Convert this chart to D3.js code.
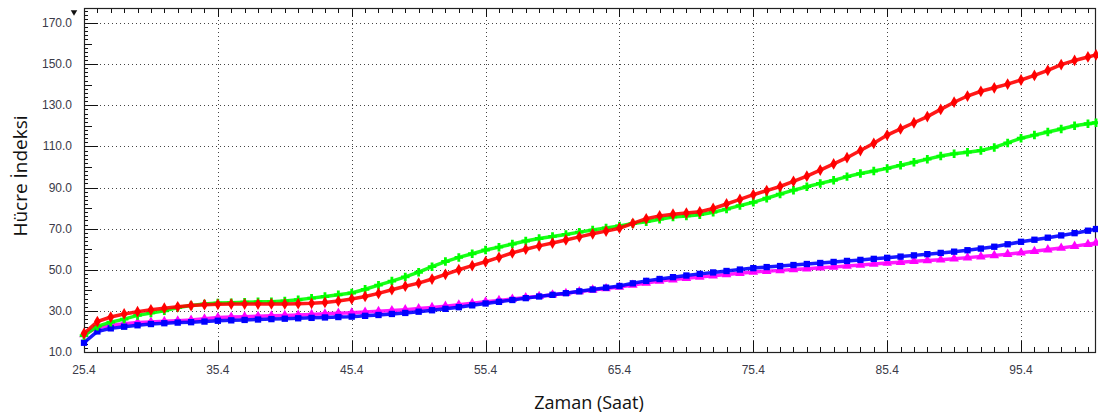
<!DOCTYPE html>
<html>
<head>
<meta charset="utf-8">
<script src="https://cdn.jsdelivr.net/npm/d3@7"></script>
<style>
	body { margin: 0; background: #fff; }
	svg { display: block; }
</style>
</head>
<body>
<div id="container"></div>
<script>
// sample times (hours), one per hour from 25.4 plus the last reading
var hours = d3.range(76).map((i) => +(25.4 + i).toFixed(1)).concat([101.0]);

var red = [19, 24.8, 27, 28.5, 29.6, 30.5, 31.3, 32, 32.6, 33,
	33.2, 33.3, 33.3, 33.3, 33.4, 33.4, 33.5, 33.7, 34.1, 34.8,
	35.8, 37, 38.5, 40.3, 42, 43.5, 45.5, 47.8, 50, 52,
	53.9, 56, 58.2, 60, 61.6, 63, 64.5, 66, 67.5, 68.8,
	70.2, 72.6, 74.8, 76.2, 77, 77.6, 78.2, 79.8, 82, 84.2,
	86.5, 88.5, 90.5, 93, 95.5, 98.5, 101.5, 104.5, 108, 111.5,
	115.5, 118.5, 121.5, 124.5, 128, 131.5, 134.5, 136.8, 138.5, 140.3,
	142.3, 144.5, 147, 149.8, 151.8, 153.5, 154.5];

var green = [18, 22.5, 24.5, 26, 27.8, 29, 30, 31.6, 32.6, 33.3,
	33.8, 34, 34.2, 34.4, 34.5, 34.8, 35.4, 36.2, 37, 37.8,
	38.7, 40.5, 42.5, 44.5, 46.5, 48.8, 51.5, 54, 56, 57.8,
	59.6, 61, 62.5, 64, 65.2, 66.2, 67.2, 68.3, 69.3, 70.3,
	71.3, 72.5, 73.4, 74.6, 75.7, 76.2, 76.8, 78, 79.5, 81.2,
	82.8, 84.8, 86.8, 88.7, 90.4, 92, 93.5, 95.3, 96.8, 98,
	99.3, 100.8, 102.3, 103.8, 105.3, 106.4, 107.2, 108, 109.5, 111.7,
	114, 115.5, 117, 118.5, 120, 121, 121.5];

var blue = [14.5, 20, 21.5, 22.3, 23, 23.6, 24, 24.3, 24.5, 24.8,
	25.2, 25.4, 25.6, 25.8, 26, 26.2, 26.4, 26.6, 26.8, 27,
	27.2, 27.6, 28, 28.5, 29, 29.6, 30.3, 31, 31.8, 32.7,
	33.6, 34.4, 35.3, 36.2, 37, 37.8, 38.6, 39.5, 40.4, 41.3,
	42.1, 43.4, 44.6, 45.5, 46.4, 47.2, 48, 48.7, 49.4, 50.1,
	50.8, 51.3, 51.8, 52.3, 52.8, 53.3, 53.8, 54.3, 54.8, 55.3,
	55.8, 56.4, 57, 57.6, 58.2, 58.8, 59.5, 60.3, 61.2, 62.4,
	63.6, 64.6, 65.6, 66.7, 67.8, 69, 69.8];

var magenta = [18.5, 21.8, 23, 23.8, 24.3, 24.6, 24.9, 25.2, 25.6, 26.2,
	26.8, 27, 27.2, 27.4, 27.6, 27.8, 28, 28.3, 28.6, 28.9,
	29.1, 29.4, 29.8, 30.2, 30.6, 31.1, 31.7, 32.3, 33, 33.7,
	34.4, 35.1, 35.8, 36.5, 37.1, 37.8, 38.6, 39.4, 40.2, 40.9,
	41.6, 42.6, 43.6, 44.5, 45.2, 45.9, 46.5, 47.1, 47.7, 48.3,
	48.9, 49.3, 49.7, 50.1, 50.5, 51, 51.4, 51.8, 52.3, 52.8,
	53.3, 53.7, 54.1, 54.5, 54.9, 55.4, 55.9, 56.4, 57, 57.6,
	58.3, 59, 59.8, 60.6, 61.5, 62.4, 63];

// tick labels
var xTicks = [25.4, 35.4, 45.4, 55.4, 65.4, 75.4, 85.4, 95.4];
var yTicks = [10, 30, 50, 70, 90, 110, 130, 150, 170];

var series = [
	{name: "magenta", values: magenta, color: "#ff00ff", symbol: d3.symbolTriangle},
	{name: "blue", values: blue, color: "#0000ff", symbol: d3.symbolSquare},
	{name: "green", values: green, color: "#00ff00", symbol: d3.symbolCross},
	{name: "red", values: red, color: "#ff0000", symbol: d3.symbolDiamond}
];

function draw_chart()
{// draws the whole chart
	var width = 1098, height = 419;
	var pLeft = 84, pRight = 1096, pTop = 8, pBottom = 352;

	var svg = d3.select("#container").append("svg")
		.attr("width", width)
		.attr("height", height);

	var x = d3.scaleLinear().domain([25.4, 101.0]).range([pLeft, pRight]);
	var y = d3.scaleLinear().domain([10, 10 + (pBottom - pTop) / 2.056]).range([pBottom, pTop]);

	// dotted grid
	svg.append("g").selectAll("line")
		.data(yTicks.slice(1))
		.enter().append("line")
			.attr("x1", pLeft).attr("x2", pRight)
			.attr("y1", (d) => Math.round(y(d)) + 0.5)
			.attr("y2", (d) => Math.round(y(d)) + 0.5)
			.attr("stroke", "#444")
			.attr("stroke-dasharray", "1,3");

	svg.append("g").selectAll("line")
		.data(xTicks.slice(1))
		.enter().append("line")
			.attr("x1", (d) => Math.round(x(d)) + 0.5)
			.attr("x2", (d) => Math.round(x(d)) + 0.5)
			.attr("y1", pTop).attr("y2", pBottom)
			.attr("stroke", "#444")
			.attr("stroke-dasharray", "1,3");

	// minor ticks: every hour on x, every 2 units on y
	var xMinor = d3.range(76).map((i) => 25.4 + i);
	var yMinor = d3.range(10, 178, 2);

	var ticks = svg.append("g").attr("stroke", "#111").attr("stroke-width", 1);

	ticks.append("g").selectAll("line")
		.data(xMinor)
		.enter().append("line")
			.attr("x1", (d) => Math.round(x(d)) + 0.5)
			.attr("x2", (d) => Math.round(x(d)) + 0.5)
			.attr("y1", pBottom)
			.attr("y2", (d, i) => pBottom - (i % 10 == 0 ? 11 : 5));

	ticks.append("g").selectAll("line")
		.data(xMinor)
		.enter().append("line")
			.attr("x1", (d) => Math.round(x(d)) + 0.5)
			.attr("x2", (d) => Math.round(x(d)) + 0.5)
			.attr("y1", pTop)
			.attr("y2", (d, i) => pTop + (i % 10 == 0 ? 9 : 5));

	ticks.append("g").selectAll("line")
		.data(yMinor)
		.enter().append("line")
			.attr("x1", pLeft)
			.attr("x2", (d) => pLeft + ((d - 10) % 20 == 0 ? 14 : (d - 10) % 10 == 0 ? 8 : 4))
			.attr("y1", (d) => Math.round(y(d)) + 0.5)
			.attr("y2", (d) => Math.round(y(d)) + 0.5);

	// frame
	svg.append("rect")
		.attr("x", pLeft + 0.5).attr("y", pTop + 0.5)
		.attr("width", pRight - pLeft - 1).attr("height", pBottom - pTop)
		.attr("fill", "none")
		.attr("stroke", "#222")
		.attr("stroke-width", 1.2);

	// tick labels
	svg.append("g").selectAll("text")
		.data(xTicks)
		.enter().append("text")
			.attr("x", (d) => x(d))
			.attr("y", 374)
			.attr("text-anchor", "middle")
			.attr("font-family", "Liberation Sans, Arial, sans-serif")
			.attr("font-size", 12)
			.attr("fill", "#3a3a48")
			.text((d) => d.toFixed(1));

	svg.append("g").selectAll("text")
		.data(yTicks)
		.enter().append("text")
			.attr("x", 72)
			.attr("y", (d) => y(d) + 4)
			.attr("text-anchor", "end")
			.attr("font-family", "Liberation Sans, Arial, sans-serif")
			.attr("font-size", 12)
			.attr("fill", "#3a3a48")
			.text((d) => d.toFixed(1));

	// little marker at the top of the y axis
	svg.append("path")
		.attr("d", d3.symbol().type(d3.symbolTriangle).size(18))
		.attr("transform", "translate(74,12) rotate(180)")
		.attr("fill", "#111");

	// series
	var line = d3.line()
		.x((d, i) => x(hours[i]))
		.y((d) => y(d));

	var plot = svg.append("g");

	series.forEach(function (s) {
		plot.append("path")
			.datum(s.values)
			.attr("d", line)
			.attr("fill", "none")
			.attr("stroke", s.color)
			.attr("stroke-width", 3.5)
			.attr("stroke-opacity", 0.9);
		plot.append("g").selectAll("path")
			.data(s.values)
			.enter().append("path")
				.attr("d", d3.symbol().type(s.symbol).size(40))
				.attr("transform", (d, i) => "translate(" + x(hours[i]) + "," + y(d) + ")")
				.attr("fill", s.color);
	});

	// axis titles
	svg.append("text")
		.attr("x", 589)
		.attr("y", 409)
		.attr("text-anchor", "middle")
		.attr("font-family", "Open Sans, sans-serif")
		.attr("font-size", 18)
		.attr("fill", "#111")
		.text("Zaman (Saat)");

	svg.append("text")
		.attr("transform", "translate(27,176) rotate(-90)")
		.attr("text-anchor", "middle")
		.attr("font-family", "Open Sans, sans-serif")
		.attr("font-size", 19)
		.attr("fill", "#111")
		.text("Hücre İndeksi");
}// End draw_chart

draw_chart();
</script>
</body>
</html>
